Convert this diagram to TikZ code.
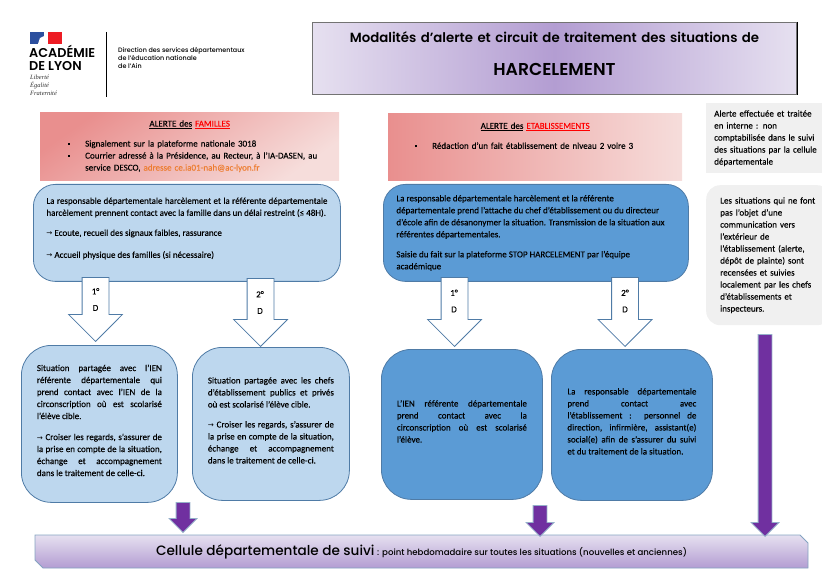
\documentclass[tikz,border=0pt]{standalone}
\usepackage{fontspec}
\setmainfont[FakeBold=0.2]{Carlito}
\newfontfamily\marfont{Poppins Medium}
\newfontfamily\marbold{Poppins SemiBold}
\newfontfamily\symfont[Scale=0.8]{DejaVu Sans}
\newfontfamily\devise{Liberation Serif}
\usetikzlibrary{shapes.arrows,shapes.misc,positioning}
\definecolor{lightblue}{HTML}{BDD7EE}
\definecolor{midblue}{HTML}{5B9BD5}
\definecolor{edgeblue}{HTML}{4F7BA6}
\definecolor{lightpurple}{HTML}{E6E0F0}
\definecolor{midpurple}{HTML}{B39DD2}
\definecolor{darkpurple}{HTML}{7030A0}
\definecolor{darkpink}{HTML}{E98F8E}
\definecolor{lightpink}{HTML}{F6DDDB}
\definecolor{lightgray}{HTML}{F0F0F0}
\definecolor{flagblue}{HTML}{2C4F9E}
\definecolor{flagred}{HTML}{ED1C24}
\newcommand{\flec}{{\symfont\char"2192}}
\newcommand{\puce}{\rule[1.6pt]{2pt}{2pt}}
\newcommand{\monte}[1]{\par\kern#1pt\relax}
\newcommand{\body}{\fontsize{9}{12}\selectfont}
\tikzset{every node/.style={inner sep=0pt,anchor=north west},
         flow box/.style={draw=edgeblue,line width=0.8pt,font=\body,align=justify},
         light box/.style={flow box,fill=lightblue},
         dark box/.style={flow box,fill=midblue},
         alert box/.style={font=\body,align=left,left color=darkpink,right color=lightpink},
         note box/.style={fill=lightgray,font=\body,align=left},
         down arrow/.style={single arrow,rotate=-90,anchor=tip,draw=edgeblue,fill=white,line width=0.8pt,
                            inner ysep=13pt,single arrow head extend=13.5pt},
         purple arrow/.style={single arrow,rotate=-90,anchor=tip,draw=edgeblue!60,fill=darkpurple,line width=0.8pt,
                            inner ysep=6.5pt,single arrow head extend=7pt},
         arrow label/.style={anchor=center,font=\fontsize{9}{16.5}\selectfont,align=center}
}
\begin{document}
\begin{tikzpicture}[x=1pt,y=-1pt]
\useasboundingbox (0,0) rectangle (822,577);
% logo
\fill[flagblue] (30,32) rectangle (44.3,44);
\fill[flagred] (47.7,32) rectangle (61.7,44);
\fill[white] (38,44) -- (40,38) -- (44.3,36) -- (44.3,44) -- cycle;
\node[font=\marbold\fontsize{12.8}{12.8}\selectfont,align=left] (acad) at (29,45) {ACADÉMIE\\DE LYON};
\node[font=\devise\itshape\fontsize{6.5}{8}\selectfont,align=left,text=black!80] (devise) at (30,75) {Liberté\\Égalité\\Fraternité};
\draw[line width=0.8pt] (106.5,32) -- (106.5,97);
\node[font=\marfont\fontsize{6.4}{8}\selectfont,align=left] (direc) at (118,47) {Direction des services départementaux\\de l’éducation nationale\\de l’Ain};
% titre
\node[text width=484pt,minimum height=72pt,left color=lightpurple,right color=lightpurple,middle color=midpurple,
      draw=black!55,line width=1pt,align=center,font=\marbold\fontsize{13.3}{31}\selectfont] (titre) at (312,22)
      {Modalités d’alerte et circuit de traitement des situations de\\[2pt]{\fontsize{17.2}{31}\selectfont HARCELEMENT}\monte{9}};
\draw[line width=1pt] (titre.north east) -- (titre.south east);
% alertes
\node[alert box,top color=darkpink,bottom color=lightpink,shading angle=35,minimum height=68pt,text width=299pt] (alfam) at (40,112)
      {\centerline{\underline{ALERTE des} {\color{red}\underline{FAMILLES}}}\par\vspace{8pt}
       \hspace*{28pt}\puce\hspace*{15pt}Signalement sur la plateforme nationale 3018\\
       \hspace*{28pt}\puce\hspace*{15pt}Courrier adressé à la Présidence, au Recteur, à l’IA-DASEN, au\\
       \hspace*{45pt}service DESCO, {\color[HTML]{ED7D31}adresse ce.ia01-nah@ac-lyon.fr}};
\node[alert box,minimum height=67pt,text width=294pt] (aleta) at (388,113)
      {\centerline{\underline{ALERTE des} {\color{red}\underline{ETABLISSEMENTS}}}\par\vspace{8pt}
       \hspace*{27pt}\puce\hspace*{15pt}Rédaction d’un fait établissement de niveau 2 voire 3\monte{22}};
\node[note box,minimum height=70pt,text width=108pt,inner xsep=8pt] (note1) at (706,103)
      {Alerte effectuée et traitée\\en interne : non\\comptabilisée dans le suivi\\des situations par la cellule\\départementale};
\node[note box,rounded corners=14pt,minimum height=140pt,text width=97pt,inner xsep=14pt] (note2) at (706,185)
      {Les situations qui ne font\\pas l’objet d’une\\communication vers\\l’extérieur de\\l’établissement (alerte,\\dépôt de plainte) sont\\recensées et suivies\\localement par les chefs\\d’établissements et\\inspecteurs.};
% cadres du haut
\node[light box,rounded corners=22pt,minimum height=97pt,text width=281pt,inner xsep=13pt] (fam) at (33,184)
      {La responsable départementale harcèlement et la référente départementale\linebreak
       harcèlement prennent contact avec la famille dans un délai restreint (≤ 48H).\par\vspace{8pt}
       \flec{} Ecoute, recueil des signaux faibles, rassurance\par\vspace{10pt}
       \flec{} Accueil physique des familles (si nécessaire)\monte{9}};
\node[dark box,rounded corners=22pt,minimum height=97pt,text width=279pt,inner xsep=13pt] (eta) at (383,184)
      {La responsable départementale harcèlement et la référente\\
       départementale prend l’attache du chef d’établissement ou du directeur\\
       d’école afin de désanonymer la situation. Transmission de la situation aux\\
       référentes départementales.\par\vspace{8pt}
       Saisie du fait sur la plateforme STOP HARCELEMENT par l’équipe\\
       académique};
% cadres du bas
\node[light box,rounded corners=30pt,minimum height=157pt,text width=125pt,inner xsep=15.5pt] (sita) at (21,345)
      {Situation partagée avec l’IEN\linebreak référente départementale qui\linebreak prend contact avec l’IEN de la\linebreak circonscription où est scolarisé\linebreak l’élève cible.\par\vspace{9pt}
       \flec{} Croiser les regards, s’assurer de\linebreak la prise en compte de la situation,\linebreak échange et accompagnement\linebreak dans le traitement de celle-ci.\monte{7}};
\node[light box,rounded corners=30pt,minimum height=153pt,text width=126pt,inner xsep=15.5pt] (sitb) at (192,347)
      {Situation partagée avec les chefs\linebreak d’établissement publics et privés\linebreak où est scolarisé l’élève cible.\par\vspace{8pt}
       \flec{} Croiser les regards, s’assurer de\linebreak la prise en compte de la situation,\linebreak échange et accompagnement\linebreak dans le traitement de celle-ci.\monte{7}};
\node[dark box,rounded corners=30pt,minimum height=150pt,text width=130pt,inner xsep=15.5pt] (sitc) at (381,349)
      {L’IEN référente départementale\linebreak prend contact avec la\linebreak circonscription où est scolarisé\linebreak l’élève.\monte{6}};
\node[dark box,rounded corners=30pt,minimum height=151pt,text width=129pt,inner xsep=16pt] (sitd) at (551,349)
      {La responsable départementale\linebreak prend contact avec\linebreak l’établissement : personnel de\linebreak direction, infirmière, assistant(e)\linebreak social(e) afin de s’assurer du suivi\linebreak et du traitement de la situation.\monte{7}};
% fleches blanches
\node[down arrow,minimum height=64pt] (fl1) at (95.5,342) {};
\node[down arrow,minimum height=68pt] (fl2) at (260.5,347) {};
\node[down arrow,minimum height=69pt] (fl3) at (454.5,347) {};
\node[down arrow,minimum height=69pt] (fl4) at (625,347) {};
\node[arrow label] (lab1) at (95.5,299.5) {1°\\D};
\node[arrow label] (lab2) at (260,302.5) {2°\\D};
\node[arrow label] (lab3) at (454,301) {1°\\D};
\node[arrow label] (lab4) at (625,301) {2°\\D};
% cellule
\node[chamfered rectangle,chamfered rectangle corners={north east,south west},chamfered rectangle xsep=4pt,chamfered rectangle ysep=4pt,
      minimum width=773pt,minimum height=33pt,top color=lightpurple,bottom color=midpurple,draw=edgeblue!70,line width=0.8pt,
      anchor=center,font=\marfont] (cell) at (421.5,551.5)
      {{\fontsize{13.6}{16}\selectfont Cellule départementale de suivi} {\fontsize{8.6}{16}\selectfont : point hebdomadaire sur toutes les situations (nouvelles et anciennes)}};
% fleches violettes
\node[purple arrow,minimum height=30pt] (vi1) at (183,533) {};
\node[purple arrow,minimum height=31pt] (vi2) at (540,537) {};
\node[purple arrow,minimum height=202pt] (vi3) at (765,537) {};
\end{tikzpicture}
\end{document}
